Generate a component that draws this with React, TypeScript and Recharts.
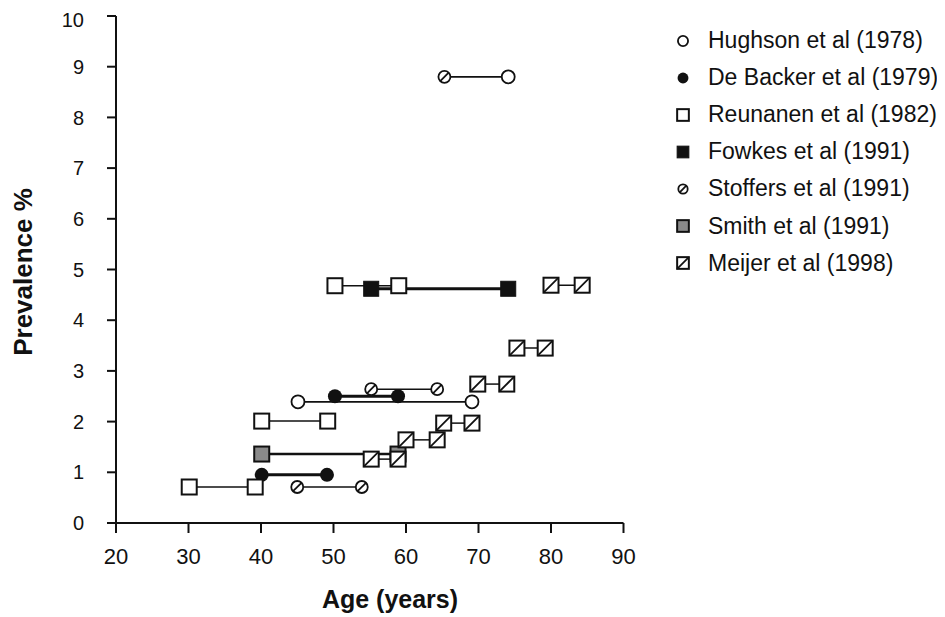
import React from 'react';
import { ScatterChart, Scatter, XAxis, YAxis } from 'recharts';

type Segment = { age: [number, number]; prevalence: number };

// Each study: horizontal segments spanning an age band at one prevalence level
const hughson: Segment[] = [
  { age: [45.1, 69.1], prevalence: 2.39 },
  { age: [65.3, 74.1], prevalence: 8.8 },
];
const deBacker: Segment[] = [
  { age: [50.2, 58.9], prevalence: 2.5 },
  { age: [40.1, 49.1], prevalence: 0.95 },
];
const reunanen: Segment[] = [
  { age: [50.2, 59.0], prevalence: 4.68 },
  { age: [40.1, 49.2], prevalence: 2.01 },
  { age: [30.1, 39.2], prevalence: 0.71 },
];
const fowkes: Segment[] = [{ age: [55.2, 74.1], prevalence: 4.62 }];
const stoffers: Segment[] = [
  { age: [55.2, 64.3], prevalence: 2.64 },
  { age: [45.0, 53.9], prevalence: 0.71 },
];
const smith: Segment[] = [{ age: [40.1, 58.9], prevalence: 1.36 }];
const meijer: Segment[] = [
  { age: [80.0, 84.3], prevalence: 4.69 },
  { age: [75.3, 79.2], prevalence: 3.45 },
  { age: [69.9, 73.9], prevalence: 2.74 },
  { age: [65.2, 69.1], prevalence: 1.97 },
  { age: [60.0, 64.3], prevalence: 1.64 },
  { age: [55.2, 58.9], prevalence: 1.26 },
];

const xTicks = [20, 30, 40, 50, 60, 70, 80, 90];
const yTicks = [0, 1, 2, 3, 4, 5, 6, 7, 8, 9, 10];

type MarkerKind =
  | 'openCircle'
  | 'filledCircle'
  | 'openSquare'
  | 'filledSquare'
  | 'slashCircle'
  | 'greySquare'
  | 'slashSquare';

const studies: { name: string; marker: MarkerKind; segments: Segment[]; lineWidth: number }[] = [
  { name: 'Hughson et al (1978)', marker: 'openCircle', segments: hughson, lineWidth: 1.6 },
  { name: 'De Backer et al (1979)', marker: 'filledCircle', segments: deBacker, lineWidth: 3 },
  { name: 'Reunanen et al (1982)', marker: 'openSquare', segments: reunanen, lineWidth: 1.5 },
  { name: 'Fowkes et al (1991)', marker: 'filledSquare', segments: fowkes, lineWidth: 3 },
  { name: 'Stoffers et al (1991)', marker: 'slashCircle', segments: stoffers, lineWidth: 1.5 },
  { name: 'Smith et al (1991)', marker: 'greySquare', segments: smith, lineWidth: 2.5 },
  { name: 'Meijer et al (1998)', marker: 'slashSquare', segments: meijer, lineWidth: 1.5 },
];

// the upper Hughson band is printed with a slashed circle at its left end
const markerOverride = { study: 0, segment: 1, point: 0, marker: 'slashCircle' as MarkerKind };

const INK = '#111';
const FONT = '"Liberation Sans", Arial, Helvetica, sans-serif';

const W = 930;
const H = 609;
const MARGIN = { top: 8, right: 314.5, bottom: 44, left: 28 };

function Marker({ kind, cx, cy, scale = 1 }: { kind: MarkerKind; cx: number; cy: number; scale?: number }) {
  const s = 7.5 * scale;
  const r = 6.5 * scale;
  switch (kind) {
    case 'openCircle':
      return <circle cx={cx} cy={cy} r={r} fill="#fff" stroke={INK} strokeWidth={1.8} />;
    case 'filledCircle':
      return <circle cx={cx} cy={cy} r={7 * scale} fill={INK} />;
    case 'openSquare':
      return <rect x={cx - s} y={cy - s} width={2 * s} height={2 * s} fill="#fff" stroke={INK} strokeWidth={2} />;
    case 'filledSquare':
      return <rect x={cx - s} y={cy - s} width={2 * s} height={2 * s} fill={INK} stroke={INK} strokeWidth={1} />;
    case 'greySquare':
      return <rect x={cx - s} y={cy - s} width={2 * s} height={2 * s} fill="#8a8a8a" stroke={INK} strokeWidth={2} />;
    case 'slashCircle': {
      const rr = 6 * scale;
      const d = rr * 0.7;
      return (
        <g>
          <circle cx={cx} cy={cy} r={rr} fill="#fff" stroke={INK} strokeWidth={1.8} />
          <line x1={cx - d} y1={cy + d} x2={cx + d} y2={cy - d} stroke={INK} strokeWidth={1.8} />
        </g>
      );
    }
    case 'slashSquare':
      return (
        <g>
          <rect x={cx - s} y={cy - s} width={2 * s} height={2 * s} fill="#fff" stroke={INK} strokeWidth={2} />
          <line x1={cx - s} y1={cy + s} x2={cx + s} y2={cy - s} stroke={INK} strokeWidth={1.8} />
        </g>
      );
    default:
      return null;
  }
}

const segmentRows = studies.flatMap((study, si) =>
  study.segments.map((seg, gi) => ({
    key: `${si}-${gi}`,
    lineWidth: study.lineWidth,
    points: seg.age.map((a, pi) => ({
      age: a,
      prevalence: seg.prevalence,
      marker:
        si === markerOverride.study && gi === markerOverride.segment && pi === markerOverride.point
          ? markerOverride.marker
          : study.marker,
    })),
  }))
);

const Empty = () => <g />;

const XTitle = () => (
  <text x={382} y={591} dy="0.35em" textAnchor="middle" fontSize={25} fontWeight="bold" fill={INK} fontFamily={FONT}>
    Age (years)
  </text>
);

const YTitle = () => (
  <text
    x={15}
    y={264}
    dy="0.35em"
    textAnchor="middle"
    fontSize={26}
    fontWeight="bold"
    fill={INK}
    fontFamily={FONT}
    transform="rotate(-90, 15, 264)"
  >
    Prevalence %
  </text>
);

const StudyLegend = () => (
  <div style={{ position: 'absolute', left: 666, top: 14, fontFamily: FONT, fontSize: 23, color: INK }}>
    {studies.map((s) => (
      <div key={s.name} style={{ display: 'flex', alignItems: 'center', height: 37.1, whiteSpace: 'nowrap' }}>
        <svg width={18} height={18} style={{ marginRight: 16, flexShrink: 0 }}>
          <Marker kind={s.marker} cx={9} cy={9} scale={0.78} />
        </svg>
        <span>{s.name}</span>
      </div>
    ))}
  </div>
);

export default function App() {
  return (
    <div style={{ position: 'relative', width: W, height: H, fontFamily: FONT }}>
      <ScatterChart width={W} height={H} margin={MARGIN}>
        <XAxis
          type="number"
          dataKey="age"
          domain={[20, 90]}
          ticks={xTicks}
          allowDataOverflow
          height={50}
          axisLine={{ stroke: INK, strokeWidth: 2 }}
          tickLine={{ stroke: INK, strokeWidth: 2 }}
          tickSize={10}
          tickMargin={15}
          tick={{ fill: INK, fontSize: 22, fontFamily: FONT }}
          label={XTitle}
        />
        <YAxis
          type="number"
          dataKey="prevalence"
          domain={[0, 10]}
          ticks={yTicks}
          allowDataOverflow
          width={80}
          axisLine={{ stroke: INK, strokeWidth: 2 }}
          tickLine={{ stroke: INK, strokeWidth: 2 }}
          tickSize={9}
          tickMargin={23}
          tick={{ fill: INK, fontSize: 20, fontFamily: FONT }}
          label={YTitle}
        />
        {segmentRows.map((row) => (
          <Scatter
            key={`line-${row.key}`}
            data={row.points}
            line={{ stroke: INK, strokeWidth: row.lineWidth }}
            lineType="joint"
            shape={Empty}
            isAnimationActive={false}
          />
        ))}
        {segmentRows.map((row) => (
          <Scatter
            key={`pts-${row.key}`}
            data={row.points}
            shape={(p: any) => <Marker kind={p.payload.marker} cx={p.cx} cy={p.cy} />}
            isAnimationActive={false}
          />
        ))}
      </ScatterChart>
      <StudyLegend />
    </div>
  );
}
